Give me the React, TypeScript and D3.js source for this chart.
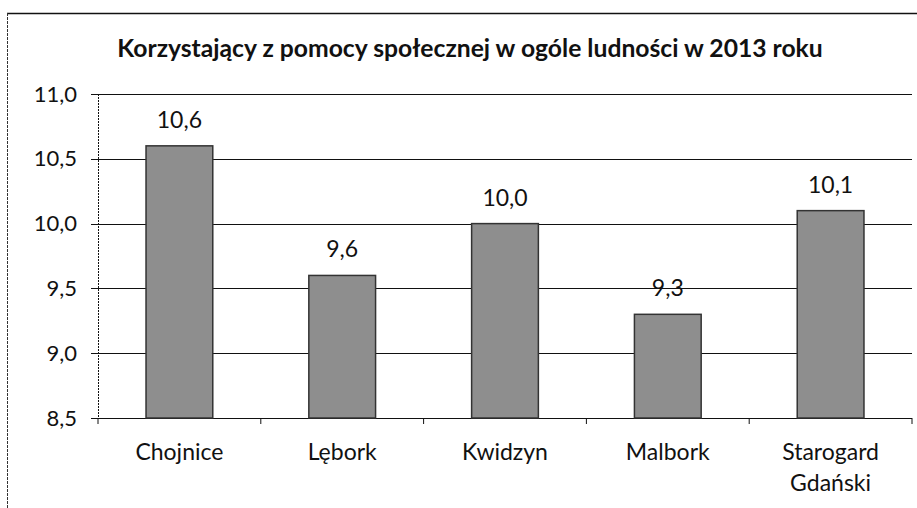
import React from "react";
import * as d3 from "d3";

const categories = ["Chojnice", "Lębork", "Kwidzyn", "Malbork", "Starogard Gdański"];
const values = [10.6, 9.6, 10.0, 9.3, 10.1];
const yTicks = [8.5, 9.0, 9.5, 10.0, 10.5, 11.0];
const title = "Korzystający z pomocy społecznej w ogóle ludności w 2013 roku";

const W = 917;
const H = 508;
const m = { left: 98, right: 5, top: 94, bottom: 90 };

export default function App() {
  const x = d3.scaleBand<string>().domain(categories).range([m.left, W - m.right]).paddingInner(0.59).paddingOuter(0.295);
  const y = d3.scaleLinear().domain([8.5, 11.0]).range([H - m.bottom, m.top]);
  const fmt = (v: number) => v.toFixed(1).replace(".", ",");
  const font = "Lato, 'Open Sans', sans-serif";
  const step = x.step();
  const boundaries = d3.range(categories.length + 1).map((i) => m.left + i * step);
  return (
    <div style={{ position: "absolute", left: 0, top: 0 }}>
      <svg width={W} height={H} style={{ display: "block", background: "#fff" }}>
        <line x1={7} x2={W} y1={13.5} y2={13.5} stroke="#111" strokeWidth={1.5} />
        <line x1={7.5} x2={7.5} y1={13} y2={H} stroke="#333" strokeWidth={1} strokeDasharray="3,1" />
        <text x={470} y={57} textAnchor="middle" fontFamily={font} fontWeight="bold" fontSize={24.7} fill="#111">
          {title}
        </text>
        {yTicks.map((t) => (
          <g key={t}>
            <line x1={m.left} x2={W - m.right} y1={Math.round(y(t)) + 0.5} y2={Math.round(y(t)) + 0.5} stroke="#111" strokeWidth={1} />
            <line x1={m.left - 7} x2={m.left} y1={Math.round(y(t)) + 0.5} y2={Math.round(y(t)) + 0.5} stroke="#111" />
            <text x={77} y={y(t) + 7.5} textAnchor="end" fontFamily={font} fontSize={22} fill="#111">
              {fmt(t)}
            </text>
          </g>
        ))}
        <line x1={m.left + 0.5} x2={m.left + 0.5} y1={m.top} y2={H - m.bottom} stroke="#111" strokeDasharray="2,1" />
        {boundaries.map((b, i) => (
          <line key={i} x1={b} x2={b} y1={H - m.bottom} y2={H - m.bottom + 6} stroke="#111" />
        ))}
        {categories.map((c, i) => (
          <g key={c}>
            <rect
              x={x(c)}
              y={y(values[i])}
              width={x.bandwidth()}
              height={y(8.5) - y(values[i])}
              fill="#8e8e8e"
              stroke="#333"
              strokeWidth={1.5}
            />
            <text x={(x(c) as number) + x.bandwidth() / 2} y={y(values[i]) - 18} textAnchor="middle" fontFamily={font} fontSize={23} fill="#111">
              {fmt(values[i])}
            </text>
            {c.split(" ").map((part, j) => (
              <text key={j} x={(x(c) as number) + x.bandwidth() / 2} y={460 + j * 31} textAnchor="middle" fontFamily={font} fontSize={23} fill="#111">
                {part}
              </text>
            ))}
          </g>
        ))}
      </svg>
    </div>
  );
}
